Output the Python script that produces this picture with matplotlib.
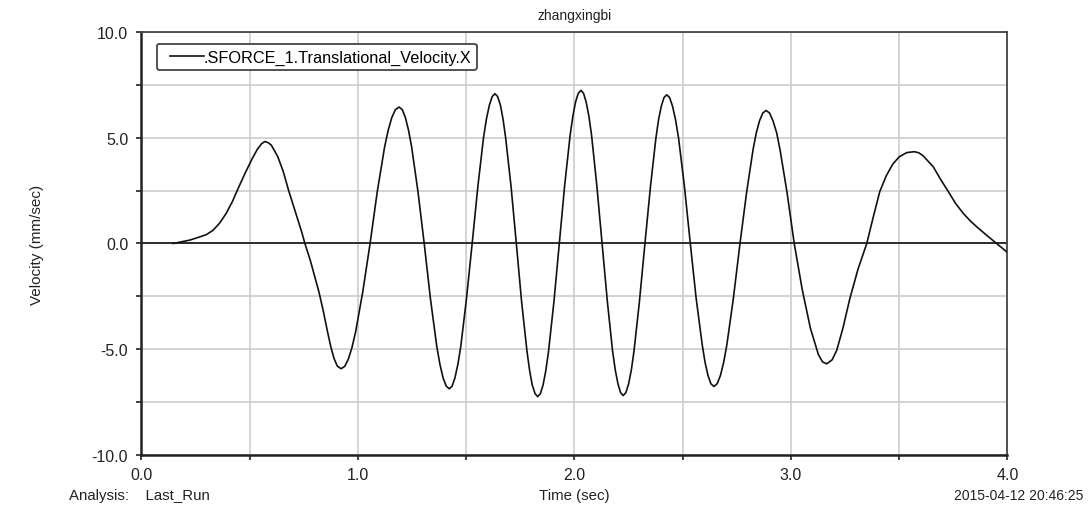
import numpy as np
import matplotlib
matplotlib.use("Agg")
import matplotlib.pyplot as plt
from matplotlib.ticker import MultipleLocator, FuncFormatter
from matplotlib.legend_handler import HandlerLine2D

plt.rcParams['font.family'] = ['Liberation Sans', 'DejaVu Sans']

# values (time in sec, velocity in mm/sec)
time_s = [0.147, 0.185, 0.223, 0.26, 0.30, 0.33, 0.36, 0.39, 0.42, 0.45, 0.48, 0.51, 0.535, 0.555, 0.57,
          0.585, 0.60, 0.63, 0.655, 0.68, 0.70, 0.72, 0.74, 0.755, 0.78, 0.80, 0.82, 0.84, 0.86, 0.875, 0.89, 0.905, 0.922,
          0.939, 0.9555, 0.9723, 0.989, 1.0225, 1.056, 1.0895, 1.123, 1.1398, 1.1565, 1.173, 1.19,
          1.2045, 1.219, 1.2335, 1.248, 1.277, 1.306, 1.335, 1.364, 1.3785, 1.393, 1.4075, 1.422,
          1.435, 1.448, 1.4616, 1.475, 1.501, 1.5275, 1.554, 1.580, 1.5934, 1.607, 1.620, 1.633,
          1.645, 1.658, 1.6699, 1.682, 1.707, 1.7315, 1.756, 1.781, 1.7931, 1.805, 1.818, 1.83,
          1.8425, 1.855, 1.8675, 1.88, 1.905, 1.93, 1.955, 1.98, 1.9925, 2.005, 2.0175, 2.03,
          2.042, 2.054, 2.0666, 2.079, 2.103, 2.1275, 2.152, 2.176, 2.1884, 2.201, 2.213, 2.225,
          2.2375, 2.250, 2.2627, 2.275, 2.300, 2.3255, 2.351, 2.376, 2.3883, 2.401, 2.4135, 2.426,
          2.4395, 2.453, 2.4669, 2.481, 2.508, 2.535, 2.562, 2.590, 2.6031, 2.617, 2.630, 2.644,
          2.659, 2.674, 2.6892, 2.704, 2.734, 2.7645, 2.795, 2.825, 2.8398, 2.855, 2.870, 2.885,
          2.901, 2.917, 2.934, 2.95, 2.982, 3.015, 3.052, 3.09, 3.127, 3.146, 3.165,
          3.19, 3.211, 3.24, 3.272, 3.31, 3.35, 3.38, 3.41, 3.44, 3.47, 3.50, 3.535, 3.57,
          3.59, 3.61, 3.657, 3.69, 3.727, 3.76, 3.796, 3.83, 3.858, 3.90, 3.95, 3.996]
velocity = [0.0, 0.08, 0.16, 0.28, 0.42, 0.62, 0.95, 1.40, 1.98, 2.68, 3.35, 3.98, 4.45, 4.72, 4.82,
            4.77, 4.65, 4.1, 3.4, 2.5, 1.85, 1.2, 0.55, 0.0, -0.8, -1.55, -2.3, -3.2, -4.2, -4.9, -5.45, -5.8, -5.92,
            -5.81, -5.47, -4.92, -4.19, -2.27, 0.0, 2.47, 4.56, 5.36, 5.96, 6.33, 6.45,
            6.33, 5.96, 5.36, 4.56, 2.47, 0.0, -2.63, -4.86, -5.71, -6.35, -6.74, -6.87,
            -6.74, -6.35, -5.71, -4.86, -2.63, 0.0, 2.71, 5.01, 5.89, 6.54, 6.95, 7.08,
            6.95, 6.54, 5.89, 5.01, 2.71, 0.0, -2.77, -5.12, -6.02, -6.69, -7.10, -7.24,
            -7.10, -6.69, -6.02, -5.12, -2.77, 0.0, 2.77, 5.12, 6.02, 6.69, 7.10, 7.24,
            7.10, 6.69, 6.02, 5.12, 2.77, 0.0, -2.75, -5.08, -5.98, -6.64, -7.05, -7.19,
            -7.05, -6.64, -5.98, -5.08, -2.75, 0.0, 2.69, 4.97, 5.85, 6.49, 6.90, 7.03,
            6.90, 6.49, 5.85, 4.97, 2.69, 0.0, -2.59, -4.78, -5.62, -6.25, -6.63, -6.76,
            -6.63, -6.25, -5.62, -4.78, -2.59, 0.0, 2.41, 4.45, 5.23, 5.81, 6.17, 6.29,
            6.17, 5.8, 5.23, 4.4, 2.4, 0.0, -2.18, -4.02, -5.26, -5.6, -5.69,
            -5.5, -5.06, -4.0, -2.6, -1.2, 0.0, 1.25, 2.45, 3.2, 3.75, 4.1, 4.3, 4.34,
            4.29, 4.15, 3.63, 3.05, 2.45, 1.9, 1.42, 1.05, 0.79, 0.42, 0.0, -0.39]

series_name = ".SFORCE_1.Translational_Velocity.X"

fig = plt.figure(figsize=(10.88, 5.10), dpi=100)
ax = fig.add_axes([0.130, 0.1059, 0.796, 0.8294])

ax.set_xlim(0, 4)
ax.set_ylim(-10, 10)
ax.xaxis.set_major_locator(MultipleLocator(1.0))
ax.xaxis.set_minor_locator(MultipleLocator(0.5))
ax.yaxis.set_major_locator(MultipleLocator(5.0))
ax.yaxis.set_minor_locator(MultipleLocator(2.5))
ax.xaxis.set_major_formatter(FuncFormatter(lambda v, p: f"{v:.1f}"))
ax.yaxis.set_major_formatter(FuncFormatter(lambda v, p: f"{v:.1f}"))

ax.grid(True, which='both', color='#cccccc', linewidth=1.2)
ax.set_axisbelow(True)
ax.tick_params(which='both', direction='out', length=3.5, width=1.2, color='#222222')
ax.tick_params(axis='y', which='major', pad=6, labelsize=11.5, labelcolor='#222222')
ax.tick_params(axis='x', which='major', pad=5, labelsize=11.5, labelcolor='#222222')
for side in ['left', 'bottom']:
    ax.spines[side].set_linewidth(1.8)
    ax.spines[side].set_color('#222222')
for side in ['top', 'right']:
    ax.spines[side].set_linewidth(1.3)
    ax.spines[side].set_color('#444444')

ax.axhline(0, color='#111111', linewidth=1.2, zorder=2)
line, = ax.plot(time_s, velocity, color='#111111', linewidth=1.2, label=series_name, zorder=3)

leg = ax.legend(loc='upper left', bbox_to_anchor=(0.0179, 0.9716), borderaxespad=0,
                fontsize=11.7, handlelength=2.55, handletextpad=0.0, borderpad=0.33,
                fancybox=True, framealpha=1, edgecolor='#444444',
                handler_map={line: HandlerLine2D(xpad=0.45)})
leg.get_frame().set_linewidth(1.3)
leg.get_frame().set_boxstyle('round,pad=0.0,rounding_size=0.15')

fig.text(0.528, 0.968, "zhangxingbi", ha='center', va='center', fontsize=10, color='#222222')
fig.text(0.034, 0.52, "Velocity (mm/sec)", ha='center', va='center', rotation=90, fontsize=11, color='#222222')
fig.text(0.528, 0.028, "Time (sec)", ha='center', va='center', fontsize=10.8, color='#222222')
fig.text(0.063, 0.028, "Analysis:    Last_Run", ha='left', va='center', fontsize=10.8, color='#222222')
fig.text(0.996, 0.028, "2015-04-12 20:46:25", ha='right', va='center', fontsize=10, color='#222222')

fig.savefig("out.png", dpi=100, facecolor='white')
